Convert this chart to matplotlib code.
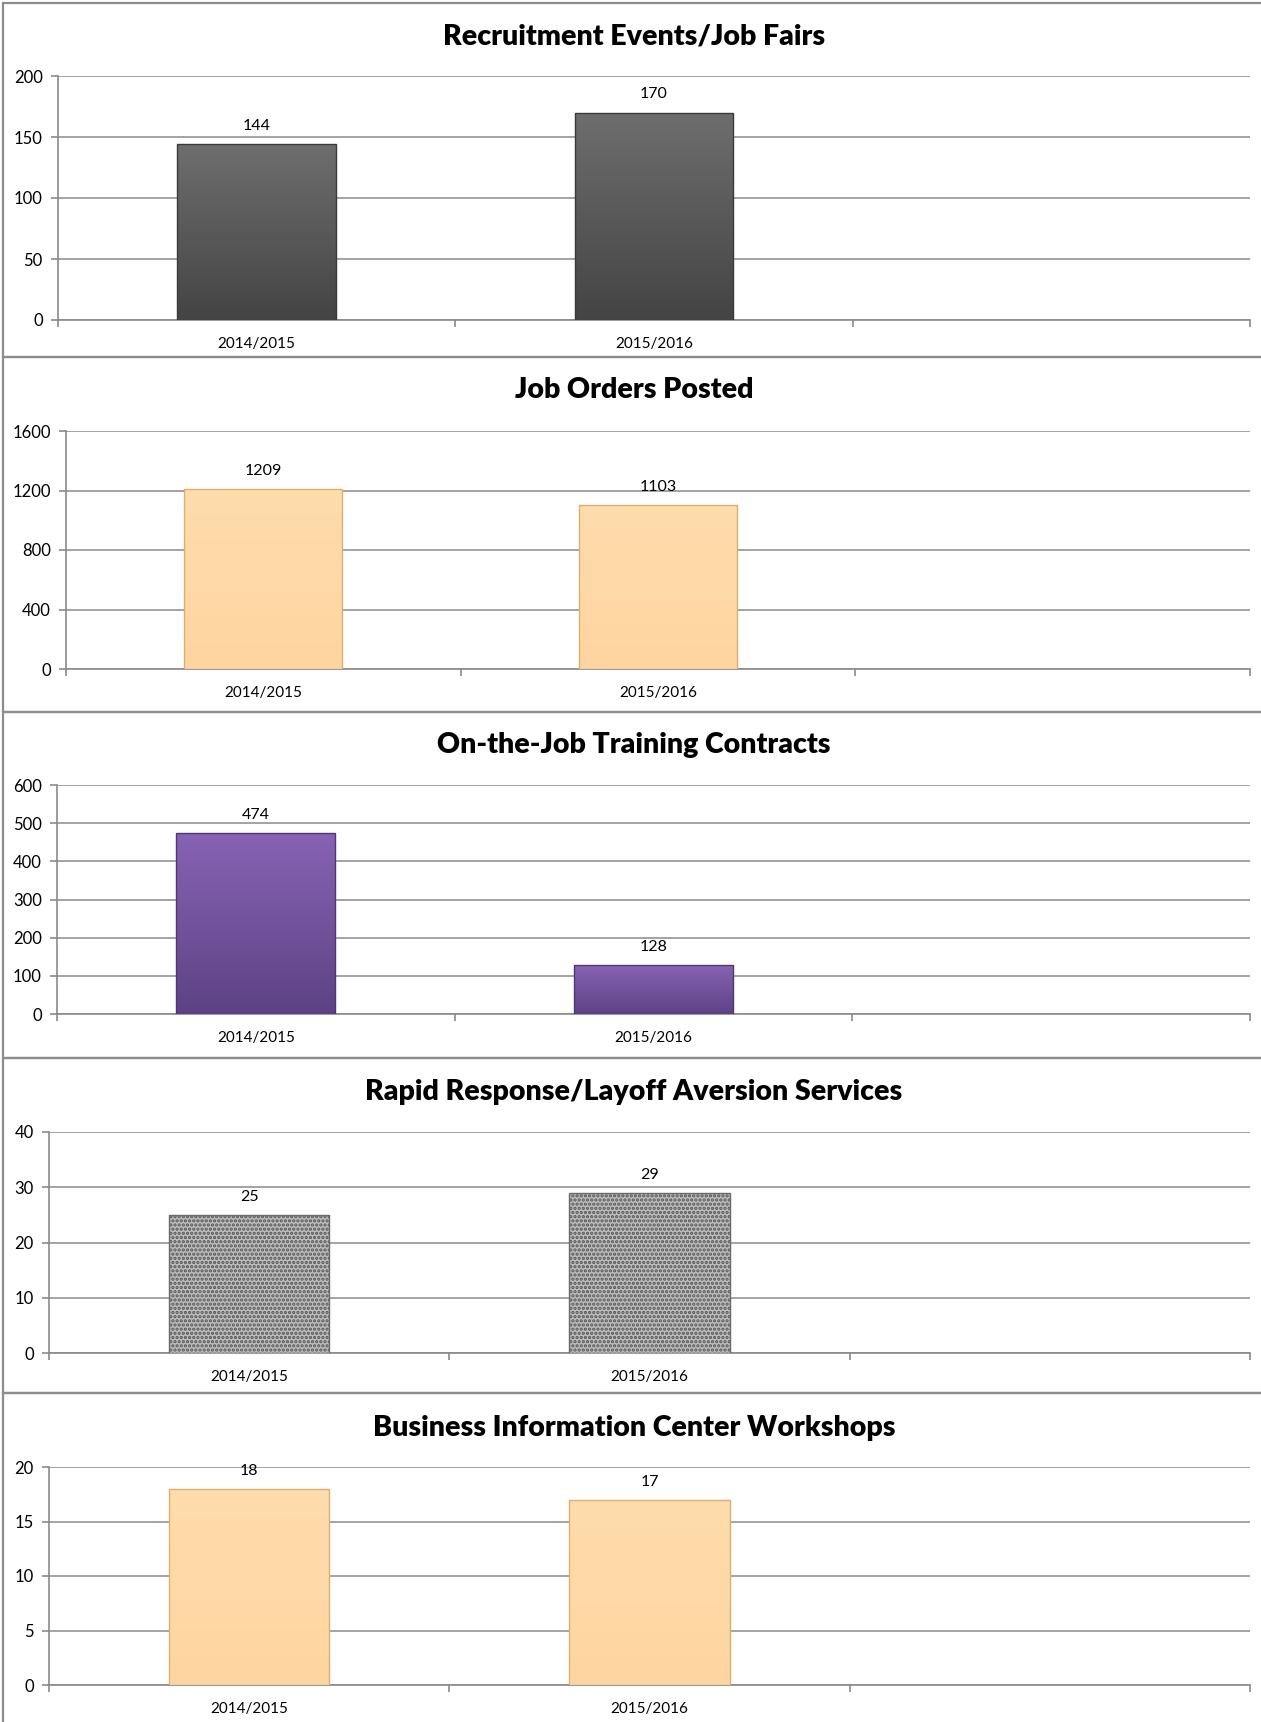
import numpy as np
import matplotlib
matplotlib.use("Agg")
import matplotlib.pyplot as plt
from matplotlib.colors import LinearSegmentedColormap
from matplotlib.patches import Rectangle

plt.rcParams['font.family'] = ['Lato', 'DejaVu Sans']
plt.rcParams['hatch.linewidth'] = 1.6

# data
years = ['2014/2015', '2015/2016', '']
titles = ['Recruitment Events/Job Fairs', 'Job Orders Posted',
          'On-the-Job Training Contracts', 'Rapid Response/Layoff Aversion Services',
          'Business Information Center Workshops']
recruitment = [144, 170]
job_orders = [1209, 1103]
ojt = [474, 128]
rapid = [25, 29]
bic = [18, 17]
series = [recruitment, job_orders, ojt, rapid, bic]
y_max = [200, 1600, 600, 40, 20]
y_step = [50, 400, 100, 10, 5]

# bar looks: (kind, top colour, bottom colour, edge colour)
styles = [('grad', '#6e6e6e', '#444444', '#3a3a3a'),
          ('grad', '#ffdcac', '#fed5a0', '#dcae72'),
          ('grad', '#8863b4', '#5d4285', '#4e3872'),
          ('tex', '#bdbdbd', '#555555', '#6a6a6a'),
          ('grad', '#ffdcac', '#fed5a0', '#dcae72')]

W, H = 1261, 1722
# pixel layout: (panel top, panel bottom, axes left, axes top, axes bottom, title y)
layout = [(3, 357, 58, 76, 320, 36),
          (357, 712, 66, 431, 669, 390),
          (712, 1058, 57, 785, 1014, 745),
          (1058, 1393, 49, 1132, 1353, 1092),
          (1393, 1740, 49, 1467, 1685, 1428)]
ax_right = 1250

fig = plt.figure(figsize=(W / 100, H / 100), dpi=100)
fig.patch.set_facecolor('white')

grid_c = '#8a8a8a'

for i in range(5):
    ptop, pbot, left, atop, abot, ty = layout[i]
    # panel frame
    fig.patches.append(Rectangle((3 / W, 1 - pbot / H), 1.2, (pbot - ptop) / H,
                                 transform=fig.transFigure, fill=False,
                                 edgecolor='#8c8c8c', linewidth=1.6, zorder=0))
    fig.text(634 / W, 1 - ty / H, titles[i], ha='center', va='center',
             fontsize=20.5, fontweight='heavy', color='black')

    ax = fig.add_axes([left / W, 1 - abot / H, (ax_right - left) / W, (abot - atop) / H])
    vals = series[i]
    x = np.arange(len(vals))
    kind, c1, c2, ce = styles[i]
    if kind == 'tex':
        bars = ax.bar(x, vals, width=0.4, color=c1, edgecolor=c2, hatch='....',
                      linewidth=0, zorder=3)
        for b in bars:
            ax.add_patch(Rectangle((b.get_x(), 0), b.get_width(), b.get_height(),
                                   fill=False, edgecolor=ce, linewidth=1.0, zorder=4))
    else:
        bars = ax.bar(x, vals, width=0.4, color=c2, edgecolor='none', zorder=3)
        cmap = LinearSegmentedColormap.from_list('g', [c2, c1])
        grad = np.linspace(0, 1, 256).reshape(-1, 1)
        for b in bars:
            bx, bw, bh = b.get_x(), b.get_width(), b.get_height()
            im = ax.imshow(grad, extent=[bx, bx + bw, 0, bh], origin='lower',
                           aspect='auto', cmap=cmap, zorder=3)
            im.set_clip_path(b)
            ax.add_patch(Rectangle((bx, 0), bw, bh, fill=False, edgecolor=ce,
                                   linewidth=1.0, zorder=4))
    for b, v in zip(bars, vals):
        ax.annotate(str(v), (b.get_x() + b.get_width() / 2, v), xytext=(0, 8),
                    textcoords='offset points', ha='center', va='bottom',
                    fontsize=11.5, color='black')

    ax.set_xlim(-0.5, len(years) - 0.5)
    ax.set_ylim(0, y_max[i])
    ax.set_yticks(np.arange(0, y_max[i] + 1, y_step[i]))
    ax.set_xticks(np.arange(len(years)))
    ax.set_xticklabels(years)
    ax.set_xticks(np.arange(len(years) + 1) - 0.5, minor=True)
    ax.tick_params(axis='x', which='major', length=0, labelsize=11, pad=12)
    ax.tick_params(axis='x', which='minor', length=5, color=grid_c, width=1.2, direction='out')
    ax.tick_params(axis='y', length=5, color=grid_c, width=1.2, labelsize=12, pad=6)
    ax.yaxis.grid(True, color=grid_c, linewidth=1.1, zorder=0)
    ax.set_axisbelow(True)
    for s in ['top', 'right']:
        ax.spines[s].set_visible(False)
    for s in ['left', 'bottom']:
        ax.spines[s].set_color(grid_c)
        ax.spines[s].set_linewidth(1.2)
    ax.set_facecolor('none')

fig.savefig('out.png', dpi=100, facecolor='white')
